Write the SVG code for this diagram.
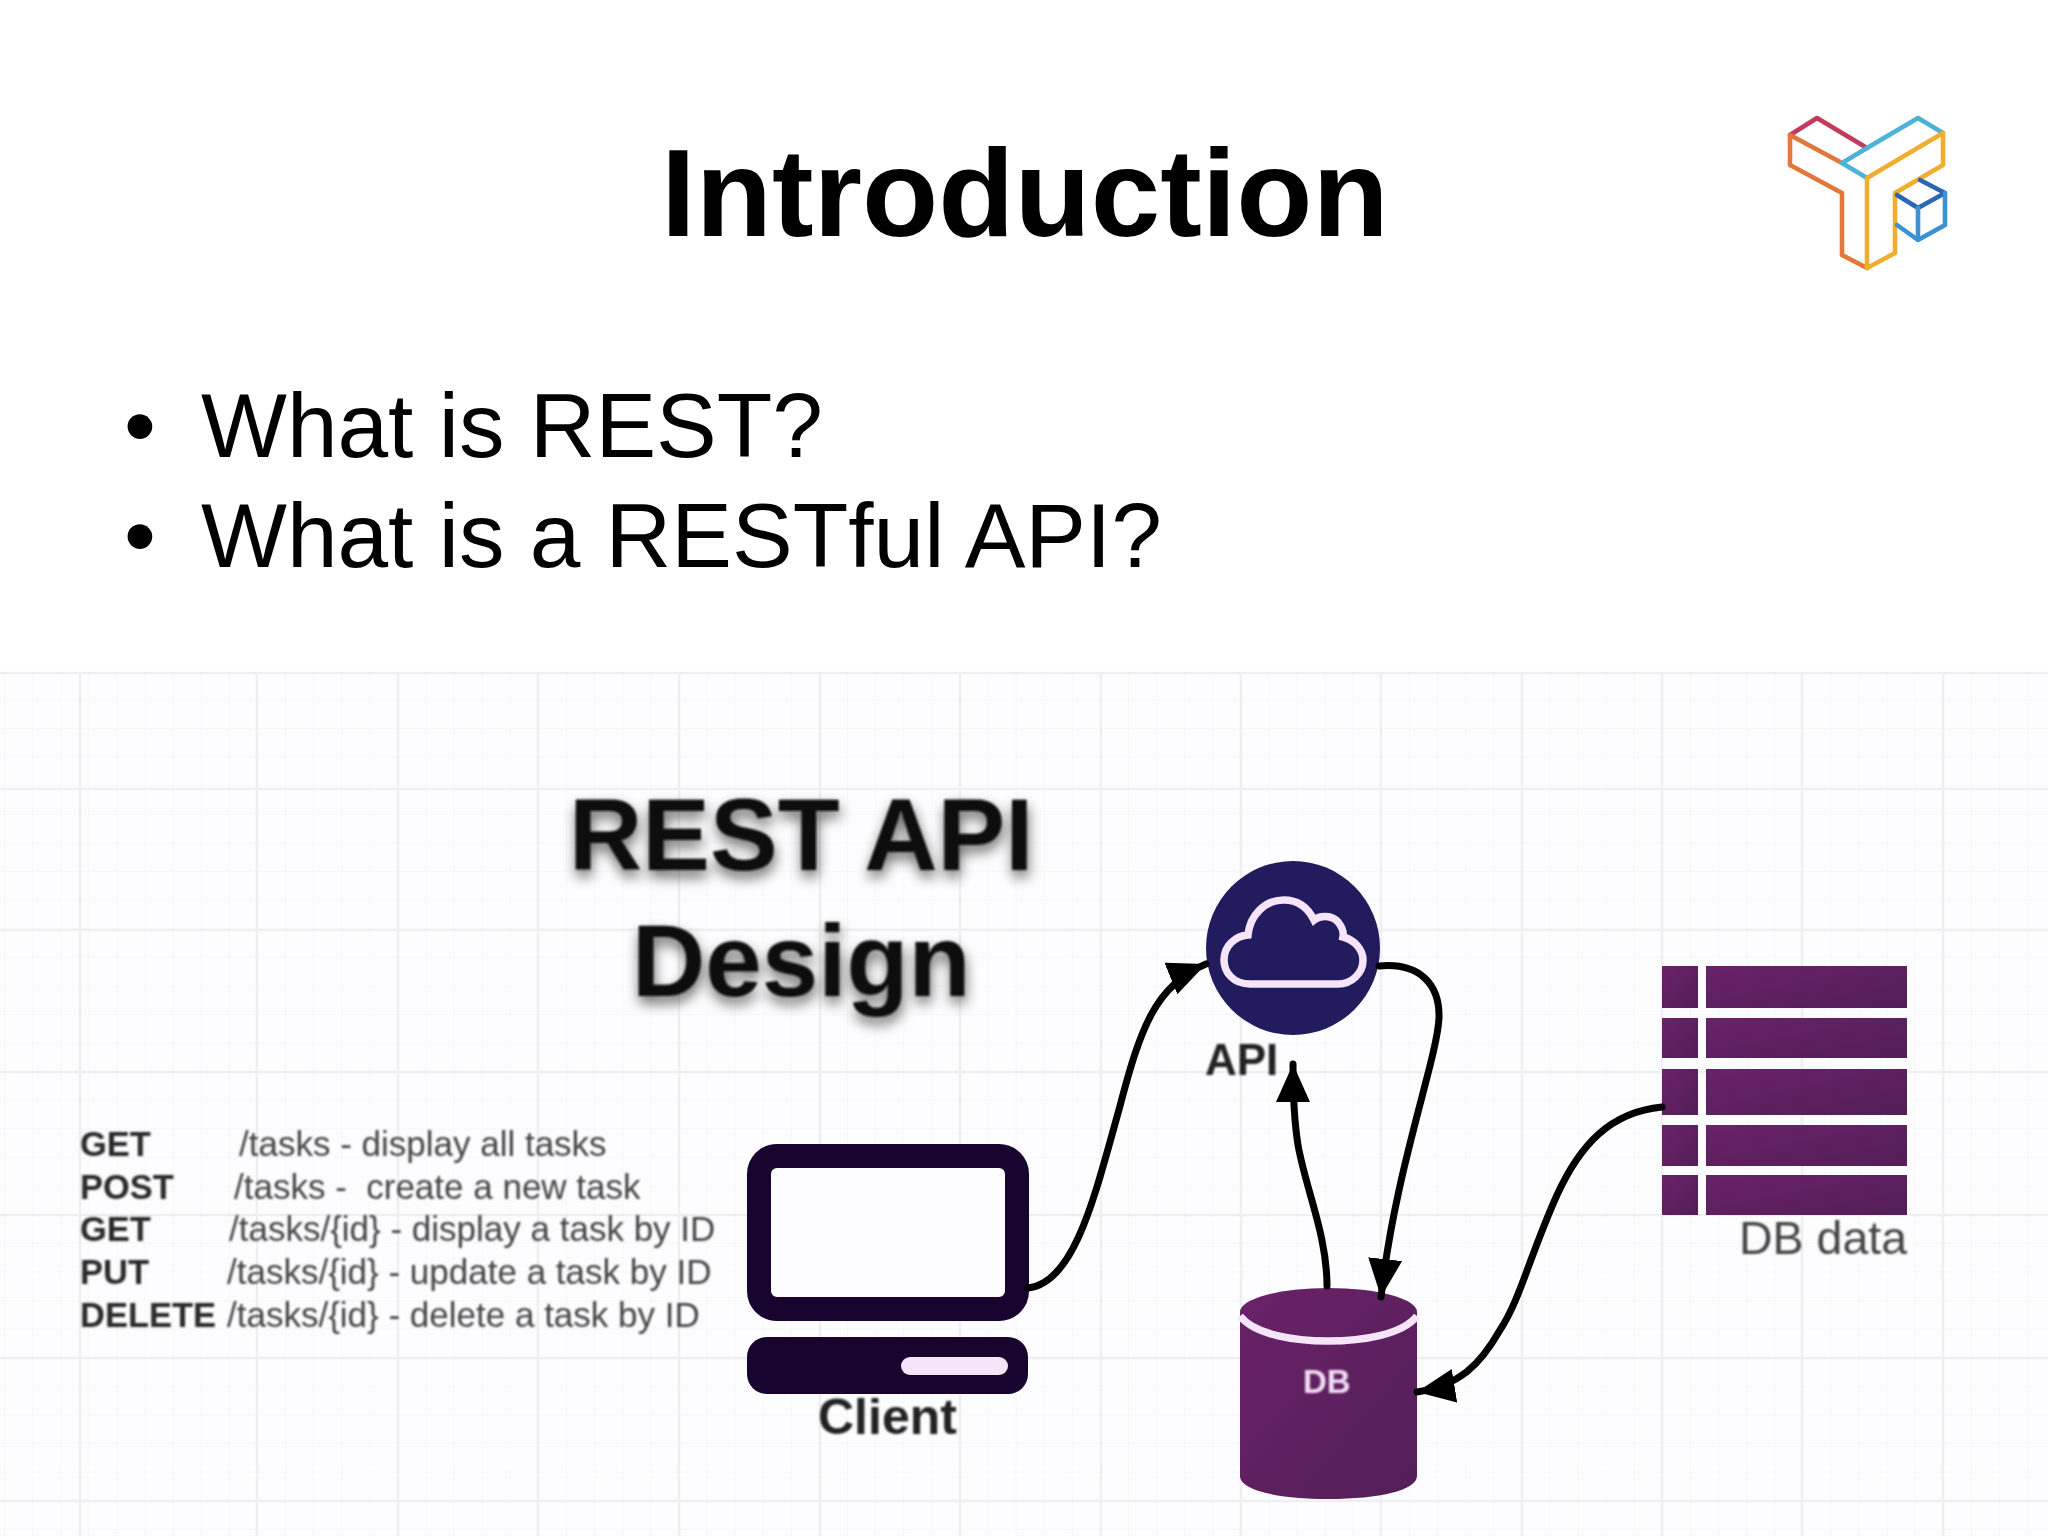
<svg xmlns="http://www.w3.org/2000/svg" width="2048" height="1536" viewBox="0 0 2048 1536">
<style>
text{font-family:"Liberation Sans",Arial,sans-serif}
.bold{font-weight:700}
.row{font-size:35px;fill:#444}
.verb{font-size:34.5px;font-weight:700;fill:#2a2a2a}
.conn{fill:none;stroke:#000;stroke-width:7;stroke-linecap:round}
.logo{fill:none;stroke-width:4.6;stroke-linejoin:round;stroke-linecap:round}
.pale{fill:none;stroke:#f6e4fa}
.minor{stroke:#f8f6f9;stroke-width:1.5}
.major{stroke:#f1eef2;stroke-width:2.5}
</style>
<defs>
<filter id="soft" x="-5%" y="-5%" width="110%" height="110%"><feGaussianBlur stdDeviation="1"/></filter>
<filter id="shadow" x="-10%" y="-20%" width="120%" height="150%"><feGaussianBlur stdDeviation="1" result="t"/><feGaussianBlur in="SourceAlpha" stdDeviation="7" result="b"/><feOffset in="b" dx="1" dy="7" result="o"/><feComponentTransfer in="o" result="o2"><feFuncA type="linear" slope="0.6"/></feComponentTransfer><feMerge><feMergeNode in="o2"/><feMergeNode in="t"/></feMerge></filter>
<linearGradient id="plum" x1="0" y1="0" x2="1" y2="1"><stop offset="0" stop-color="#6a2268"/><stop offset="1" stop-color="#531e58"/></linearGradient>
<pattern id="fine" width="28.1" height="28.6" patternUnits="userSpaceOnUse" x="4" y="13"><path d="M0 0V28.6M0 0H28.1" class="minor" fill="none"/></pattern>
<marker id="head" markerUnits="userSpaceOnUse" markerWidth="44" markerHeight="36" refX="38" refY="17" orient="auto"><path d="M0 0L38 17L0 34Z" fill="#000"/></marker>
</defs>
<rect width="2048" height="1536" fill="#fff"/>
<text id="title" class="bold" x="661" y="236" font-size="124.8">Introduction</text>
<g id="bullets" font-size="91" fill="#000">
<text x="124" y="457">•</text><text x="201" y="457">What is REST?</text>
<text x="124" y="567">•</text><text x="201" y="567">What is a RESTful API?</text>
</g>
<g id="logo">
<path class="logo" stroke="#c23a5c" d="M1790 135L1817 118L1867 148"/>
<path class="logo" stroke="#e2773c" d="M1842 163L1790 135V165L1842 193V255L1867 268"/>
<path class="logo" stroke="#4db1d8" d="M1867 148L1918 118L1943 133M1867 148L1842 163L1867 178"/>
<path class="logo" stroke="#f0ae30" d="M1867 268V178L1943 133V165L1895 193V253L1867 268"/>
<path class="logo" stroke="#2a66b2" d="M1920 180L1945 193L1918 208L1897 195"/>
<path class="logo" stroke="#3a92d2" d="M1918 208V240M1897 225L1918 240L1945 225V193"/>
</g>
<g id="panel">
<rect y="672" width="2048" height="864" fill="#fdfcfe"/>
<rect y="672" width="2048" height="864" fill="url(#fine)"/>
<path class="major" fill="none" d="M80 672V1536M257 672V1536M398 672V1536M538 672V1536M679 672V1536M820 672V1536M960 672V1536M1101 672V1536M1241 672V1536M1381 672V1536M1522 672V1536M1662 672V1536M1802 672V1536M1943 672V1536M0 673H2048M0 789H2048M0 930H2048M0 1072H2048M0 1215H2048M0 1358H2048M0 1501H2048"/>
</g>
<g id="heading" class="bold" font-size="101.5" fill="#111" filter="url(#shadow)">
<text x="569" y="870">REST API</text>
<text x="632" y="996">Design</text>
</g>
<g id="routes" filter="url(#soft)">
<text class="verb" x="80" y="1156">GET</text><text class="row" x="239" y="1156">/tasks - display all tasks</text>
<text class="verb" x="80" y="1199">POST</text><text class="row" x="234" y="1199" xml:space="preserve">/tasks -  create a new task</text>
<text class="verb" x="80" y="1241">GET</text><text class="row" x="229" y="1241">/tasks/{id} - display a task by ID</text>
<text class="verb" x="80" y="1284">PUT</text><text class="row" x="227" y="1284">/tasks/{id} - update a task by ID</text>
<text class="verb" x="80" y="1327">DELETE</text><text class="row" x="227" y="1327">/tasks/{id} - delete a task by ID</text>
</g>
<g id="client">
<rect x="759" y="1156" width="258" height="153" rx="18" fill="#fdfcfe" stroke="#17052f" stroke-width="24"/>
<rect x="747" y="1337" width="281" height="57" rx="20" fill="#17052f"/>
<rect x="901" y="1357" width="107" height="18" rx="9" fill="#f6e4fa"/>
<text class="bold" x="818" y="1434" font-size="50" fill="#222" filter="url(#soft)">Client</text>
</g>
<g id="api">
<circle cx="1293" cy="948" r="87" fill="#221c5e"/>
<path d="M1250 984C1233 984 1224 972 1224 960C1224 946 1235 936 1248 935C1250 915 1265 900 1284 900C1298 900 1308 908 1314 920C1320 915 1332 915 1338 922C1342 927 1344 932 1343 937C1355 940 1363 950 1363 960C1363 973 1352 984 1338 984Z" class="pale" stroke-width="7.5"/>
<text class="bold" x="1205" y="1075" font-size="44" fill="#222" filter="url(#soft)">API</text>
</g>
<g id="db">
<path d="M1240 1312A88 24 0 0 1 1417 1312V1476C1417 1490 1380 1499 1328 1499C1277 1499 1240 1490 1240 1476Z" fill="url(#plum)"/>
<path d="M1240 1316C1255 1335 1295 1341 1328 1341C1362 1341 1402 1335 1417 1316" class="pale" stroke-width="7.5"/>
<text x="1303" y="1393" font-size="33" class="bold" fill="#f3dcf5" filter="url(#soft)">DB</text>
</g>
<g id="dbdata">
<g fill="url(#plum)">
<rect x="1662" y="966" width="36" height="42"/><rect x="1706" y="966" width="201" height="42"/>
<rect x="1662" y="1018" width="36" height="40"/><rect x="1706" y="1018" width="201" height="40"/>
<rect x="1662" y="1069" width="36" height="46"/><rect x="1706" y="1069" width="201" height="46"/>
<rect x="1662" y="1125" width="36" height="41"/><rect x="1706" y="1125" width="201" height="41"/>
<rect x="1662" y="1175" width="36" height="40"/><rect x="1706" y="1175" width="201" height="40"/>
</g>
<text x="1739" y="1254" font-size="46.5" fill="#444" filter="url(#soft)">DB data</text>
</g>
<g id="connectors">
<path class="conn" marker-end="url(#head)" d="M1028 1288C1075 1283 1095 1195 1120 1106C1140 1030 1155 985 1206 964"/>
<path class="conn" marker-end="url(#head)" d="M1379 966C1420 962 1440 985 1439 1018C1437 1060 1395 1170 1381 1297"/>
<path class="conn" marker-end="url(#head)" d="M1327 1286C1327 1235 1306 1190 1298 1145C1294 1120 1293 1095 1293 1064"/>
<path class="conn" marker-end="url(#head)" d="M1662 1107C1610 1112 1580 1145 1557 1195C1530 1255 1520 1300 1500 1330C1480 1365 1460 1385 1417 1392"/>
</g>
</svg>
